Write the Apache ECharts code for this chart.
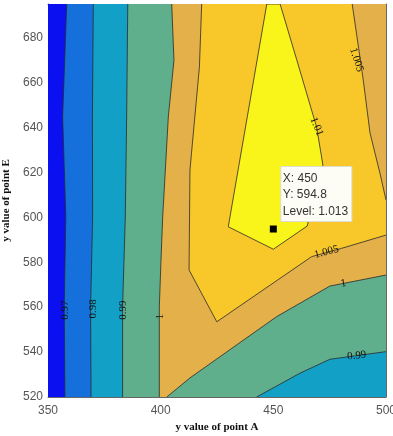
<!DOCTYPE html>
<html><head><meta charset="utf-8">
<script src="https://cdn.jsdelivr.net/npm/echarts@6/dist/echarts.min.js"></script>
<style>html,body{margin:0;padding:0;background:#fff}#c{width:393px;height:436px}</style>
</head><body><div id="c"></div>
<script>
// ---- data (in data units) ----
const xRange = [350, 500];
const yRange = [520, 695];
const levels = [0.97, 0.98, 0.99, 1, 1.005, 1.01];
// contour lines
const c097  = [[358.3,695],[356.5,644.7],[357.9,600.2],[357.2,560.1],[357.5,520]];
const c098  = [[370.1,695],[369.7,644.7],[369.8,600.2],[368.9,560.1],[369.1,520]];
const c099a = [[385.4,695],[384.9,644.7],[384.3,600.2],[383.7,579.7],[383.1,560.1],[383.1,520]];
const c099b = [[442.6,520],[461.8,530.6],[475.1,536.8],[500,540.2]];
const c100a = [[404.9,695],[405.9,670],[403.4,644.7],[400.9,600.2],[400.1,579.7],[399.4,560.1],[399.4,520]];
const c100b = [[402.7,520],[413,528.5],[451.5,555.8],[475.1,569.4],[500,574.3]];
const c1005a = [[418.2,695],[417.2,667],[413.0,621.1],[412.6,576.6],[424.9,553.5],[467,582.5],[480.3,586.2],[500,592.1]];
const c1005b = [[500,607.7],[497.3,619.7],[492.9,637.6],[489.9,661.2],[485,695]];
const c101  = [[447.1,695],[430,595.8],[450,585.8],[465,596.1],[466.3,601],[472,623.3],[469.2,640.2],[460.4,670.1],[453,695]];
// contour labels
const labelTexts = ['0.97','0.98','0.99','1','1.005','1.01','1.005','1','0.99'];
const labelPos = [[357.5,558.7],[370,559.2],[383.4,558.7],[399.7,555.8],[486.9,670.1],[469.2,640.4],[473.6,584.6],[481.1,570.6],[487,538.4]];
// data tip
const tipPoint = [450, 594.8];
const tipLevel = 1.013;

// ---- styles ----
const labelRot = [90, 90, 90, 90, -72, -68, 15, 10, 6];
const fillColors = ['#0b10f0','#1570dc','#12a0c6','#5fae8c','#e3b04a','#f8c82b','#f9f419'];

const corner = [[500,520],[500,695]];
const regions = [
  [[350,520],[500,520],[500,695],[350,695]],
  c097.concat(corner),
  c098.concat(corner),
  c099a.concat(c099b, [[500,695]]),
  c100a.concat(c100b, [[500,695]]),
  c1005a.concat(c1005b),
  c101
];
const openLines = [c097, c098, c099a, c099b, c100a, c100b, c1005a, c1005b];

const chart = echarts.init(document.getElementById('c'), null, {renderer:'canvas'});
const axisCol = '#666';
const labelStyle = {color:'#555', fontSize:12, fontFamily:'"Liberation Sans", Arial, sans-serif'};
const nameStyle = {color:'#111', fontSize:11, fontWeight:'bold', fontFamily:'"Liberation Serif", "Times New Roman", serif'};

chart.setOption({
  animation:false,
  grid:{left:48, right:7, top:4, bottom:39, containLabel:false, outerBoundsMode:'none'},
  xAxis:[{
    type:'value', min:xRange[0], max:xRange[1], interval:50,
    name:'y value of point A', nameLocation:'middle', nameGap:24, nameTextStyle:nameStyle,
    axisLine:{show:true, onZero:false, lineStyle:{color:axisCol}},
    axisTick:{show:true, inside:true, length:4, lineStyle:{color:axisCol}},
    axisLabel:Object.assign({margin:8}, labelStyle),
    splitLine:{show:false}
  },{
    type:'value', position:'top', min:xRange[0], max:xRange[1], interval:50,
    axisLine:{show:true, onZero:false, lineStyle:{color:axisCol}},
    axisTick:{show:true, inside:true, length:4, lineStyle:{color:axisCol}},
    axisLabel:{show:false}, splitLine:{show:false}
  }],
  yAxis:[{
    type:'value', min:yRange[0], max:yRange[1], interval:20,
    name:'y value of point E', nameLocation:'middle', nameGap:32, nameTextStyle:nameStyle,
    axisLine:{show:true, onZero:false, lineStyle:{color:axisCol}},
    axisTick:{show:true, inside:true, length:4, lineStyle:{color:axisCol}},
    axisLabel:Object.assign({margin:5, showMaxLabel:false}, labelStyle),
    splitLine:{show:false}
  },{
    type:'value', position:'right', min:yRange[0], max:yRange[1], interval:20,
    axisLine:{show:true, onZero:false, lineStyle:{color:axisCol}},
    axisTick:{show:true, inside:true, length:4, lineStyle:{color:axisCol}},
    axisLabel:{show:false}, splitLine:{show:false}
  }],
  series:[
    {
      type:'custom', clip:true, z:1, silent:true,
      data: regions.map((r,i)=>[r[0][0], r[0][1], i]),
      renderItem:(params, api)=>{
        const i = params.dataIndex;
        return {type:'polygon', shape:{points: regions[i].map(p=>api.coord(p))},
          style:{fill: fillColors[i], stroke: i===6 ? '#2a2a2a' : null, lineWidth:0.8}};
      }
    },
    {
      type:'custom', clip:true, z:2, silent:true,
      data: openLines.map((l,i)=>[l[0][0], l[0][1], i]),
      renderItem:(params, api)=>{
        const l = openLines[params.dataIndex];
        return {type:'polyline', shape:{points: l.map(p=>api.coord(p))},
          style:{fill:null, stroke:'#2a2a2a', lineWidth:0.8}};
      }
    },
    {
      type:'custom', clip:true, z:3, silent:true,
      data: labelPos.map((p,i)=>[p[0], p[1], i]),
      renderItem:(params, api)=>{
        const i = params.dataIndex;
        const pt = api.coord(labelPos[i]);
        return {type:'text', x:pt[0], y:pt[1], rotation: labelRot[i]*Math.PI/180,
          style:{text: labelTexts[i], x:0, y:0, align:'center', verticalAlign:'middle',
            fill:'#111', font:'11px "Liberation Serif", "Times New Roman", serif'}};
      }
    },
    {
      type:'custom', clip:false, z:4, silent:true,
      data:[[tipPoint[0], tipPoint[1], tipLevel]],
      renderItem:(params, api)=>{
        const pt = api.coord([api.value(0), api.value(1)]);
        const bx = pt[0]+7.5, by = pt[1]-62.5;
        const f = '12px "Liberation Sans", Arial, sans-serif';
        return {type:'group', children:[
          {type:'rect', shape:{x:-3.5+pt[0], y:-3.5+pt[1], width:7, height:7}, style:{fill:'#000'}},
          {type:'rect', shape:{x:bx, y:by, width:71, height:55}, style:{fill:'#fdfdf6', stroke:'#dcdcd2', lineWidth:1}},
          {type:'text', style:{x:bx+2, y:by+12, text:'X: '+api.value(0), font:f, fill:'#333', verticalAlign:'middle'}},
          {type:'text', style:{x:bx+2, y:by+28.5, text:'Y: '+api.value(1), font:f, fill:'#333', verticalAlign:'middle'}},
          {type:'text', style:{x:bx+2, y:by+45, text:'Level: '+api.value(2), font:f, fill:'#333', verticalAlign:'middle'}}
        ]};
      }
    }
  ]
});
</script></body></html>
